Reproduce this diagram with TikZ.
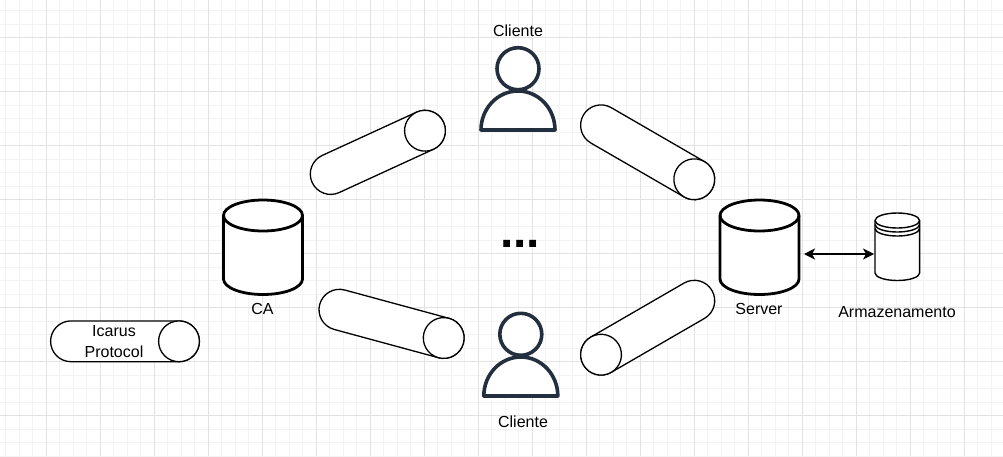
\documentclass[tikz,border=0pt]{standalone}
\usepackage{fontspec}
\setmainfont{Liberation Sans}
\usetikzlibrary{arrows.meta}
\definecolor{persona}{HTML}{232F3E}
\definecolor{gridminor}{HTML}{F3F3F3}
\definecolor{gridmajor}{HTML}{E2E2E2}
\tikzset{
  x=1pt,y=1pt,
  tube/.style={draw=black,fill=white,line width=1.3pt},
  drum/.style={draw=black,fill=white,line width=2.8pt,line join=round},
  store/.style={draw=black,fill=white,line width=1.4pt},
  person/.style={draw=persona,fill=white,line width=3.6pt,line join=round},
  label/.style={font=\fontsize{16}{21}\selectfont,text=black,inner sep=0pt,align=center},
}
\newcommand{\tube}[4]{%
  \pgfmathsetmacro{\tang}{atan2((#2)-(#4),(#3)-(#1))}%
  \pgfmathsetmacro{\tlen}{veclen((#3)-(#1),(#4)-(#2))}%
  \begin{scope}[shift={(#1,-#2)},rotate=\tang]
    \draw[tube] (0,20.4) arc[start angle=90,end angle=270,radius=20.4] -- (\tlen,-20.4) arc[start angle=-90,end angle=90,radius=20.4] -- cycle;
    \draw[tube] (\tlen,0) circle[radius=20.4];
  \end{scope}}
\newcommand{\drum}[1]{%
  \draw[drum] (#1,-215.5) arc[start angle=180,end angle=0,x radius=39.5,y radius=15.5] -- (#1+79,-279) arc[start angle=0,end angle=-180,x radius=39.5,y radius=15.5] -- cycle;
  \draw[drum,fill=none] (#1,-215.5) arc[start angle=180,end angle=360,x radius=39.5,y radius=15.5];}
\newcommand{\persona}[3]{%
  \draw[person] (#1,-#3) circle[radius=21];
  \draw[person] (#1-37,-#2) arc[start angle=180,end angle=0,x radius=37,y radius=39] -- cycle;}
\begin{document}
\begin{tikzpicture}
\useasboundingbox (0,0) rectangle (1003,-456);
\fill[white] (0,0) rectangle (1003,-456);
\foreach \k in {0,...,74}{\draw[gridminor,line width=0.8pt] ({5.5+13.5*\k},0) -- ({5.5+13.5*\k},-456);}
\foreach \k in {0,...,33}{\draw[gridminor,line width=0.8pt] (0,{-10.5-13.5*\k}) -- (1003,{-10.5-13.5*\k});}
\foreach \k in {0,...,18}{\draw[gridmajor,line width=0.8pt] ({46.5+54*\k},0) -- ({46.5+54*\k},-456);}
\foreach \k in {0,...,7}{\draw[gridmajor,line width=0.8pt] (0,{-37.5-54*\k}) -- (1003,{-37.5-54*\k});}
\tube{330.7}{174}{425}{130.7}
\tube{601}{125.3}{694.3}{179.3}
\tube{339.4}{309.7}{443.7}{338}
\tube{694.3}{300.7}{601}{354.7}
\tube{71}{341.3}{179}{341.3}
\drum{223.5}
\drum{720}
\persona{518}{130}{68.7}
\persona{520.8}{396}{334.3}
\draw[store] (875,-220.5) arc[start angle=180,end angle=0,x radius=22.3,y radius=7.5] -- (919.6,-273) arc[start angle=0,end angle=-180,x radius=22.3,y radius=7.5] -- cycle;
\draw[store,fill=none] (875,-220.5) arc[start angle=180,end angle=360,x radius=22.3,y radius=7.5];
\draw[store,fill=none] (875,-224.5) arc[start angle=180,end angle=360,x radius=22.3,y radius=7.5];
\draw[store,fill=none] (875,-228.5) arc[start angle=180,end angle=360,x radius=22.3,y radius=7.5];
\coordinate (arrowa) at (804,-254);
\coordinate (arrowb) at (874,-254);
\draw[line width=1.3pt,{Stealth[length=11pt,width=11pt,inset=3pt]}-{Stealth[length=11pt,width=11pt,inset=3pt]}] (arrowa) -- (arrowb);
\node[label] (cliente1) at (518,-30.5) {Cliente};
\node[label] (cliente2) at (523,-421.5) {Cliente};
\node[label] (ca) at (262.5,-308.5) {CA};
\node[label] (server) at (759,-309) {Server};
\node[label] (armaz) at (897,-312.5) {Armazenamento};
\node[label] (icarus) at (114,-342) {Icarus\\Protocol};
\node[font=\bfseries\fontsize{48}{48}\selectfont,inner sep=0pt,anchor=base] (dots) at (520.3,-247) {...};
\end{tikzpicture}
\end{document}
